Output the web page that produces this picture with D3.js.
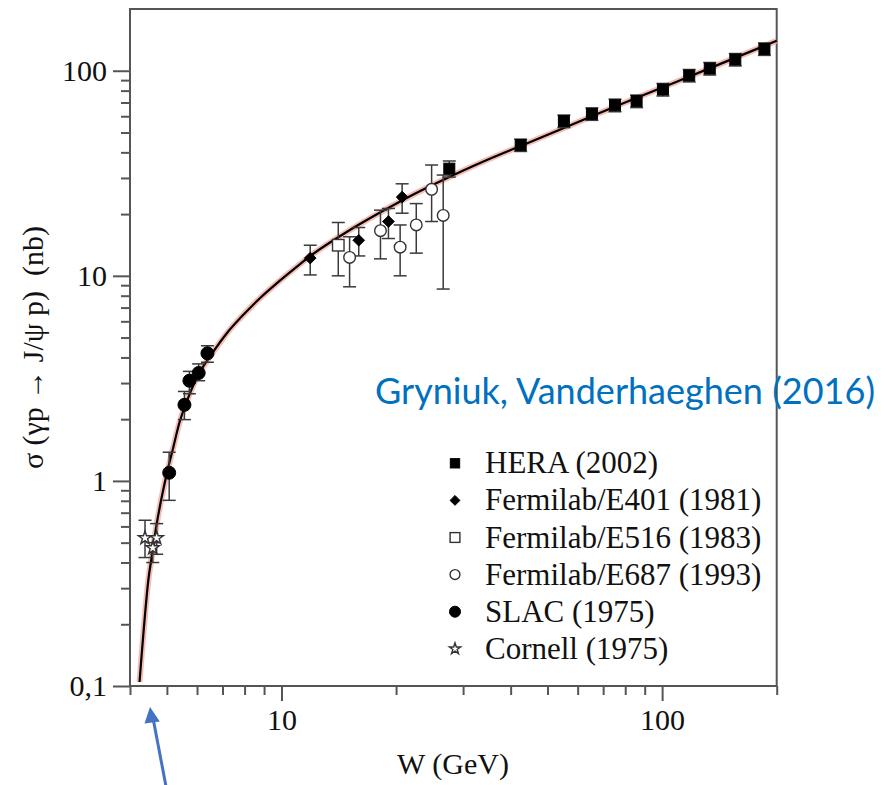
<!DOCTYPE html>
<html>
<head>
<meta charset="utf-8">
<script src="https://cdn.jsdelivr.net/npm/d3@7"></script>
<style>
  body { margin: 0; background: #fff; }
  svg { display: block; }
</style>
</head>
<body>
<div id="app"></div>
<script>
// ---- data ----
// model curve (W in GeV, sigma in nb)
var curveW     = [4.237, 4.469, 4.562, 4.702, 4.847, 4.996, 5.199, 5.414, 5.694, 6.05, 6.494, 7.245, 7.79, 8.79, 9.92, 11.21, 12.15, 14.87, 18.2, 22.27, 27.26, 33.35, 42.5, 55.2, 74.8, 100.5, 137.1, 200];
var curveSigma = [0.1046, 0.328, 0.426, 0.619, 0.834, 1.084, 1.461, 1.970, 2.557, 3.30, 4.05, 5.35, 6.22, 7.80, 9.50, 11.45, 12.85, 16.4, 20.4, 25.0, 30.0, 35.6, 43.0, 52.6, 66.6, 83.0, 105.0, 140];

var heraW     = [27.6, 42.5, 55.2, 65.4, 75.2, 85.7, 100.5, 117.8, 133.4, 155.7, 185.7];
var heraSigma = [33.3, 43.4, 56.8, 61.6, 67.9, 71.1, 81.0, 94.8, 102.5, 113.4, 127.7];
var heraErr   = [3.0, 3.0, 4.0, 4.3, 4.8, 5.0, 5.7, 6.6, 7.2, 7.9, 8.9];

var e401W     = [11.9, 15.96, 19.1, 20.75];
var e401Sigma = [12.2, 14.9, 18.4, 24.2];
var e401Lo    = [10.1, 12.5, 15.2, 20.2];
var e401Hi    = [14.1, 17.2, 21.3, 28.1];

var e516W     = [14.1];
var e516Sigma = [14.1];
var e516Lo    = [10.0];
var e516Hi    = [18.2];

var e687W     = [15.1, 18.2, 20.5, 22.6, 24.8, 26.6];
var e687Sigma = [12.3, 16.6, 13.8, 17.7, 26.4, 19.7];
var e687Lo    = [8.84, 12.1, 10.0, 12.9, 18.4, 8.62];
var e687Hi    = [15.5, 20.9, 17.7, 22.5, 34.7, 31.0];

var slacW     = [5.07, 5.56, 5.73, 6.06, 6.39];
var slacSigma = [1.096, 2.35, 3.08, 3.36, 4.19];
var slacLo    = [0.804, 1.99, 2.66, 3.08, 3.79];
var slacHi    = [1.38, 2.73, 3.42, 3.72, 4.56];

var cornellW     = [4.38, 4.59, 4.70];
var cornellSigma = [0.527, 0.471, 0.527];
var cornellLo    = [0.423, 0.40, 0.439];
var cornellHi    = [0.643, 0.50, 0.619];

var legendLabels = ['HERA (2002)', 'Fermilab/E401 (1981)', 'Fermilab/E516 (1983)',
                    'Fermilab/E687 (1993)', 'SLAC (1975)', 'Cornell (1975)'];
var legendMarkers = ['square', 'diamond', 'osquare', 'ocircle', 'circle', 'star'];

var xMajor = [10, 100];
var xMinor = [4, 5, 6, 7, 8, 9, 20, 30, 40, 50, 60, 70, 80, 90, 200];
var yMajor = [0.1, 1, 10, 100];
var yMajorLabels = ['0,1', '1', '10', '100'];
var yMinor = [0.2, 0.3, 0.4, 0.5, 0.6, 0.7, 0.8, 0.9, 2, 3, 4, 5, 6, 7, 8, 9, 20, 30, 40, 50, 60, 70, 80, 90];

// ---- layout ----
var W_ = 888, H_ = 785,
    plotLeft = 130, plotRight = 776.7, plotTop = 9, plotBottom = 686,
    axisColor = '#555',
    serif = '"Liberation Serif", "Times New Roman", serif';

var svg = d3.select('#app').append('svg')
            .attr('width', W_)
            .attr('height', H_);

var x = d3.scaleLog().domain([4, 200]).range([plotLeft, plotRight]);
var y = d3.scaleLog().domain([0.1, 200]).range([plotBottom, plotTop]);

// ---- axes ----
function styleAxis(g) {
  g.select('.domain').remove();
  g.selectAll('line').attr('stroke', axisColor).attr('stroke-width', 2);
  g.selectAll('text').attr('fill', '#111').style('font-family', serif).style('font-size', '30px');
}

svg.append('g').attr('transform', 'translate(0,' + plotBottom + ')')
   .call(d3.axisBottom(x).tickValues(xMinor).tickSize(9).tickFormat(''))
   .call(styleAxis);
svg.append('g').attr('transform', 'translate(0,' + plotBottom + ')')
   .call(d3.axisBottom(x).tickValues(xMajor).tickSize(15).tickPadding(8).tickFormat(d3.format('d')))
   .call(styleAxis);
svg.append('g').attr('transform', 'translate(' + plotLeft + ',0)')
   .call(d3.axisLeft(y).tickValues(yMinor).tickSize(9).tickFormat(''))
   .call(styleAxis);
svg.append('g').attr('transform', 'translate(' + plotLeft + ',0)')
   .call(d3.axisLeft(y).tickValues(yMajor).tickSize(17).tickPadding(6)
           .tickFormat(function(d, i) { return yMajorLabels[i]; }))
   .call(styleAxis);

// frame
svg.append('rect')
   .attr('x', plotLeft).attr('y', plotTop)
   .attr('width', plotRight - plotLeft).attr('height', plotBottom - plotTop)
   .attr('fill', 'none').attr('stroke', axisColor).attr('stroke-width', 2);

// ---- model curve ----
var curveData = curveW.map(function(w, i) { return [w, curveSigma[i]]; });
var line = d3.line().x(function(d) { return x(d[0]); })
                    .y(function(d) { return y(d[1]); })
                    .curve(d3.curveCatmullRom);

var plot = svg.append('g');
plot.append('path').datum(curveData).attr('d', line)
    .attr('fill', 'none').attr('stroke', '#f2a196').attr('stroke-width', 6).attr('opacity', 0.7);
plot.append('path').datum(curveData).attr('d', line)
    .attr('fill', 'none').attr('stroke', '#000').attr('stroke-width', 2.2);

// ---- markers ----
function marker(g, type, cx, cy, k) {
  k = k || 1;
  var m;
  if (type === 'square' || type === 'osquare') {
    var s = (type === 'square' ? 11 : 11.5) * k;
    m = g.append('rect').attr('x', cx - s / 2).attr('y', cy - s / 2).attr('width', s).attr('height', s);
  } else if (type === 'diamond') {
    var r = 5.8 * k;
    m = g.append('path').attr('d', 'M' + cx + ',' + (cy - r) + 'L' + (cx + r) + ',' + cy +
                                   'L' + cx + ',' + (cy + r) + 'L' + (cx - r) + ',' + cy + 'Z');
  } else if (type === 'ocircle') {
    m = g.append('circle').attr('cx', cx).attr('cy', cy).attr('r', 5.8 * k);
  } else if (type === 'circle') {
    m = g.append('circle').attr('cx', cx).attr('cy', cy).attr('r', 6.5 * k);
  } else {
    m = g.append('path').attr('d', d3.symbol(d3.symbolStar, 55 * k * k)())
         .attr('transform', 'translate(' + cx + ',' + cy + ')');
  }
  var open = (type === 'osquare' || type === 'ocircle' || type === 'star');
  m.attr('fill', open ? '#fff' : '#000')
   .attr('stroke', open ? '#333' : '#000')
   .attr('stroke-width', open ? 1.4 : 1);
  return m;
}

function errorBars(g, ws, lo, hi, cap) {
  ws.forEach(function(w, i) {
    var cx = x(w), y1 = y(lo[i]), y2 = y(hi[i]);
    g.append('line').attr('x1', cx).attr('x2', cx).attr('y1', y1).attr('y2', y2);
    g.append('line').attr('x1', cx - cap).attr('x2', cx + cap).attr('y1', y1).attr('y2', y1);
    g.append('line').attr('x1', cx - cap).attr('x2', cx + cap).attr('y1', y2).attr('y2', y2);
  });
}

var eb = plot.append('g').attr('stroke', '#3a3a3a').attr('stroke-width', 1.5);
errorBars(eb, heraW, heraSigma.map(function(v, i) { return v - heraErr[i]; }),
                     heraSigma.map(function(v, i) { return v + heraErr[i]; }), 6.5);
errorBars(eb, e401W, e401Lo, e401Hi, 6.5);
errorBars(eb, e516W, e516Lo, e516Hi, 6.5);
errorBars(eb, e687W, e687Lo, e687Hi, 6.5);
errorBars(eb, slacW, slacLo, slacHi, 6.5);
errorBars(eb, cornellW, cornellLo, cornellHi, 6.5);

var mk = plot.append('g');
function points(ws, ss, type) {
  ws.forEach(function(w, i) { marker(mk, type, x(w), y(ss[i])); });
}
points(e401W, e401Sigma, 'diamond');
points(e516W, e516Sigma, 'osquare');
points(e687W, e687Sigma, 'ocircle');
points(heraW, heraSigma, 'square');
points(slacW, slacSigma, 'circle');
points(cornellW, cornellSigma, 'star');

// ---- legend ----
var legend = svg.append('g');
legendLabels.forEach(function(label, i) {
  var ly = 463.3 + i * 37.1;
  marker(legend, legendMarkers[i], 455, ly, 0.85);
  legend.append('text')
        .attr('x', 485).attr('y', ly + 10)
        .style('font-family', serif).style('font-size', '31px')
        .attr('fill', '#111')
        .text(label);
});

// ---- axis titles ----
svg.append('text')
   .attr('x', 453).attr('y', 774)
   .attr('text-anchor', 'middle')
   .style('font-family', serif).style('font-size', '30px')
   .attr('fill', '#111')
   .text('W (GeV)');

svg.append('text')
   .attr('transform', 'translate(43,347.5) rotate(-90)')
   .attr('text-anchor', 'middle')
   .style('font-family', serif).style('font-size', '30px')
   .attr('fill', '#111')
   .text('\u03c3 (\u03b3p \u2192 J/\u03c8 p)\u00a0\u00a0(nb)');

// ---- annotation ----
svg.append('text')
   .attr('x', 875).attr('y', 404)
   .attr('text-anchor', 'end')
   .attr('textLength', 500).attr('lengthAdjust', 'spacingAndGlyphs')
   .style('font-family', 'Lato, "Open Sans", sans-serif').style('font-size', '37px')
   .attr('fill', '#0070C0')
   .text('Gryniuk, Vanderhaeghen (2016)');

svg.append('line')
   .attr('x1', 166.7).attr('y1', 790).attr('x2', 153).attr('y2', 718)
   .attr('stroke', '#4472C4').attr('stroke-width', 3);
svg.append('path')
   .attr('d', 'M150,707L144.5,723.5L159.8,721.5Z')
   .attr('fill', '#4472C4');
</script>
</body>
</html>
